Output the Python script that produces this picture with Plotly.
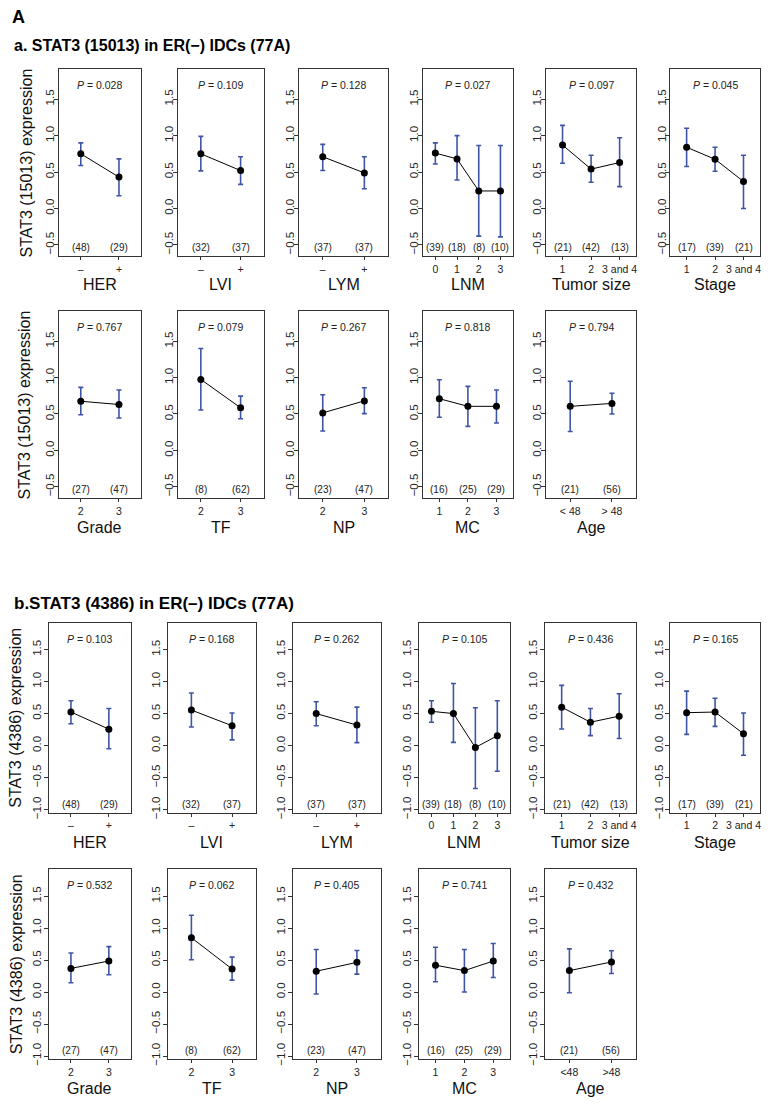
import plotly.graph_objects as go

# ---------------- data ----------------
panel_names = ["HER", "LVI", "LYM", "LNM", "Tumor size", "Stage", "Grade", "TF", "NP", "MC", "Age"]
cats_HER = ["–", "+"]
cats_LVI = ["–", "+"]
cats_LYM = ["–", "+"]
cats_LNM = ["0", "1", "2", "3"]
cats_Tumor = ["1", "2", "3 and 4"]
cats_Stage = ["1", "2", "3 and 4"]
cats_Grade = ["2", "3"]
cats_TF = ["2", "3"]
cats_NP = ["2", "3"]
cats_MC = ["1", "2", "3"]
cats_Age_a = ["< 48", "> 48"]
cats_Age_b = ["<48", ">48"]

n_HER = [48, 29]
n_LVI = [32, 37]
n_LYM = [37, 37]
n_LNM = [39, 18, 8, 10]
n_Tumor = [21, 42, 13]
n_Stage = [17, 39, 21]
n_Grade = [27, 47]
n_TF = [8, 62]
n_NP = [23, 47]
n_MC = [16, 25, 29]
n_Age = [21, 56]

p_a = ["0.028", "0.109", "0.128", "0.027", "0.097", "0.045", "0.767", "0.079", "0.267", "0.818", "0.794"]
p_b = ["0.103", "0.168", "0.262", "0.105", "0.436", "0.165", "0.532", "0.062", "0.405", "0.741", "0.432"]

# section a: STAT3 (15013)  mean / lower / upper
a_HER_mean = [0.75, 0.43];   a_HER_lo = [0.59, 0.175];  a_HER_hi = [0.90, 0.68]
a_LVI_mean = [0.75, 0.52];   a_LVI_lo = [0.515, 0.33];  a_LVI_hi = [0.99, 0.71]
a_LYM_mean = [0.71, 0.487];  a_LYM_lo = [0.52, 0.27];   a_LYM_hi = [0.88, 0.71]
a_LNM_mean = [0.76, 0.68, 0.24, 0.24]; a_LNM_lo = [0.61, 0.39, -0.38, -0.39]; a_LNM_hi = [0.90, 1.0, 0.865, 0.865]
a_Tumor_mean = [0.87, 0.54, 0.63]; a_Tumor_lo = [0.62, 0.36, 0.30]; a_Tumor_hi = [1.14, 0.73, 0.97]
a_Stage_mean = [0.84, 0.675, 0.37]; a_Stage_lo = [0.575, 0.51, 0.0]; a_Stage_hi = [1.10, 0.84, 0.73]
a_Grade_mean = [0.675, 0.63]; a_Grade_lo = [0.49, 0.445]; a_Grade_hi = [0.865, 0.83]
a_TF_mean = [0.975, 0.585]; a_TF_lo = [0.555, 0.435]; a_TF_hi = [1.40, 0.745]
a_NP_mean = [0.515, 0.68]; a_NP_lo = [0.265, 0.505]; a_NP_hi = [0.765, 0.86]
a_MC_mean = [0.71, 0.605, 0.605]; a_MC_lo = [0.455, 0.33, 0.375]; a_MC_hi = [0.97, 0.88, 0.83]
a_Age_mean = [0.605, 0.645]; a_Age_lo = [0.26, 0.50]; a_Age_hi = [0.95, 0.785]

# section b: STAT3 (4386)
b_HER_mean = [0.525, 0.257]; b_HER_lo = [0.34, -0.05]; b_HER_hi = [0.70, 0.58]
b_LVI_mean = [0.555, 0.31]; b_LVI_lo = [0.29, 0.09]; b_LVI_hi = [0.82, 0.51]
b_LYM_mean = [0.50, 0.32]; b_LYM_lo = [0.31, 0.046]; b_LYM_hi = [0.685, 0.60]
b_LNM_mean = [0.535, 0.50, -0.03, 0.154]; b_LNM_lo = [0.365, 0.05, -0.67, -0.40]; b_LNM_hi = [0.70, 0.97, 0.59, 0.70]
b_Tumor_mean = [0.60, 0.365, 0.46]; b_Tumor_lo = [0.26, 0.155, 0.11]; b_Tumor_hi = [0.94, 0.58, 0.81]
b_Stage_mean = [0.514, 0.524, 0.185]; b_Stage_lo = [0.175, 0.30, -0.15]; b_Stage_hi = [0.85, 0.74, 0.51]
b_Grade_mean = [0.37, 0.485]; b_Grade_lo = [0.145, 0.27]; b_Grade_hi = [0.61, 0.71]
b_TF_mean = [0.85, 0.36]; b_TF_lo = [0.505, 0.186]; b_TF_hi = [1.20, 0.546]
b_NP_mean = [0.325, 0.464]; b_NP_lo = [-0.03, 0.28]; b_NP_hi = [0.665, 0.65]
b_MC_mean = [0.42, 0.335, 0.485]; b_MC_lo = [0.16, 0.0, 0.227]; b_MC_hi = [0.70, 0.665, 0.76]
b_Age_mean = [0.335, 0.47]; b_Age_lo = [-0.01, 0.29]; b_Age_hi = [0.675, 0.645]

yticks_a = [-0.5, 0.0, 0.5, 1.0, 1.5]
yticks_b = [-1.0, -0.5, 0.0, 0.5, 1.0, 1.5]
ylabel_a = "STAT3 (15013) expression"
ylabel_b = "STAT3 (4386) expression"
title_a = "a. STAT3 (15013) in ER(−) IDCs (77A)"
title_b = "b.STAT3 (4386) in ER(–) IDCs (77A)"

cats_all = [cats_HER, cats_LVI, cats_LYM, cats_LNM, cats_Tumor, cats_Stage, cats_Grade, cats_TF, cats_NP, cats_MC]
n_all = [n_HER, n_LVI, n_LYM, n_LNM, n_Tumor, n_Stage, n_Grade, n_TF, n_NP, n_MC, n_Age]
a_data = [(a_HER_mean, a_HER_lo, a_HER_hi), (a_LVI_mean, a_LVI_lo, a_LVI_hi), (a_LYM_mean, a_LYM_lo, a_LYM_hi),
          (a_LNM_mean, a_LNM_lo, a_LNM_hi), (a_Tumor_mean, a_Tumor_lo, a_Tumor_hi), (a_Stage_mean, a_Stage_lo, a_Stage_hi),
          (a_Grade_mean, a_Grade_lo, a_Grade_hi), (a_TF_mean, a_TF_lo, a_TF_hi), (a_NP_mean, a_NP_lo, a_NP_hi),
          (a_MC_mean, a_MC_lo, a_MC_hi), (a_Age_mean, a_Age_lo, a_Age_hi)]
b_data = [(b_HER_mean, b_HER_lo, b_HER_hi), (b_LVI_mean, b_LVI_lo, b_LVI_hi), (b_LYM_mean, b_LYM_lo, b_LYM_hi),
          (b_LNM_mean, b_LNM_lo, b_LNM_hi), (b_Tumor_mean, b_Tumor_lo, b_Tumor_hi), (b_Stage_mean, b_Stage_lo, b_Stage_hi),
          (b_Grade_mean, b_Grade_lo, b_Grade_hi), (b_TF_mean, b_TF_lo, b_TF_hi), (b_NP_mean, b_NP_lo, b_NP_hi),
          (b_MC_mean, b_MC_lo, b_MC_hi), (b_Age_mean, b_Age_lo, b_Age_hi)]

# ---------------- layout geometry (pixels) ----------------
W, H = 771, 1111
OFF = 8  # body margin of the html page
FW, FH = W - 2 * OFF, H - 2 * OFF
cols_a = [(58.7, 141.3), (178, 264), (299, 389), (423.3, 513.7), (546.7, 637), (671, 761)]
cols_b = [(49, 131), (168, 256), (293, 381), (419.3, 510.7), (545.7, 636.7), (671, 761)]
rows = [(69.3, 257.5), (312.7, 500.7), (626, 817.3), (874, 1065)]
yr_a = [-0.655, 1.915]
yr_b = [-1.05, 1.92]
label_shift = [-28, -29, -29.5, -29]
ytitle_x = [27, 25, 16, 16]
ystandoff = [-5, -5, -2, -2]

def px(x):
    return (x - OFF) / FW

def py(y):
    return 1 - (y - OFF) / FH

FONT = "Liberation Sans, Arial, Helvetica, sans-serif"
BLUE = "#3e55a6"
AXC = "#333333"

fig = go.Figure()
layout = {}
annotations = []
k = 0
for sec in range(2):
    data = a_data if sec == 0 else b_data
    pvals = p_a if sec == 0 else p_b
    cols = cols_a if sec == 0 else cols_b
    yr = yr_a if sec == 0 else yr_b
    yt = yticks_a if sec == 0 else yticks_b
    for i in range(11):
        k += 1
        r = sec * 2 + (0 if i < 6 else 1)
        c = i if i < 6 else i - 6
        if i < 10:
            cats = cats_all[i]
        else:
            cats = cats_Age_a if sec == 0 else cats_Age_b
        n = len(cats)
        xs = list(range(1, n + 1))
        mean, lo, hi = data[i]
        up = [h - m for h, m in zip(hi, mean)]
        dn = [m - l for m, l in zip(mean, lo)]
        xa = "x" if k == 1 else f"x{k}"
        ya = "y" if k == 1 else f"y{k}"
        fig.add_trace(go.Scatter(
            x=xs, y=mean, xaxis=xa, yaxis=ya, mode="lines+markers",
            line=dict(color="black", width=1),
            marker=dict(color="black", size=7),
            error_y=dict(type="data", array=up, arrayminus=dn, symmetric=False,
                         color=BLUE, thickness=1.6, width=2.5),
            showlegend=False, hoverinfo="skip"))
        x0, x1 = cols[c]
        y0, y1 = rows[r]
        suffix = "" if k == 1 else str(k)
        layout["xaxis" + suffix] = dict(
            domain=[px(x0), px(x1)], anchor=ya, range=[0.42, n + 0.58],
            tickvals=xs, ticktext=cats, ticks="outside", ticklen=3, tickcolor=AXC,
            tickfont=dict(size=10.5, color="#222", family=FONT),
            showline=True, linecolor=AXC, linewidth=1, mirror=True,
            showgrid=False, zeroline=False, fixedrange=True)
        layout["yaxis" + suffix] = dict(
            domain=[py(y1), py(y0)], anchor=xa, range=yr,
            tickvals=yt, ticktext=[("−" if v < 0 else "") + f"{abs(v):.1f}" for v in yt],
            tickangle=-90, ticks="outside", ticklen=4, tickcolor=AXC,
            ticklabelstandoff=ystandoff[r],
            tickfont=dict(size=11.5, color="#222", family=FONT),
            showline=True, linecolor=AXC, linewidth=1, mirror=True,
            showgrid=False, zeroline=False, fixedrange=True)
        mid = (n + 1) / 2
        annotations.append(dict(x=mid, xref=xa, y=1, yref=ya + " domain", yanchor="middle", yshift=-16,
                                text="<i>P</i> = " + pvals[i], showarrow=False,
                                font=dict(size=10.5, color="#222", family=FONT)))
        for xi, nn in zip(xs, n_all[i]):
            annotations.append(dict(x=xi, xref=xa, y=0, yref=ya + " domain", yanchor="bottom", yshift=1,
                                    text=f"({nn})", showarrow=False,
                                    font=dict(size=10, color="#222", family=FONT)))
        annotations.append(dict(x=mid, xref=xa, y=0, yref=ya + " domain", yanchor="middle",
                                yshift=label_shift[r], text=panel_names[i], showarrow=False,
                                font=dict(size=16, color="#111", family=FONT)))
        if c == 0:
            annotations.append(dict(x=px(ytitle_x[r]), xref="paper", y=py((y0 + y1) / 2), yref="paper",
                                    xanchor="center", yanchor="middle", textangle=-90,
                                    text=ylabel_a if sec == 0 else ylabel_b, showarrow=False,
                                    font=dict(size=16, color="#111", family=FONT)))

annotations.append(dict(x=px(10), y=py(17), xref="paper", yref="paper", xanchor="left", yanchor="middle",
                        text="<b>A</b>", showarrow=False, font=dict(size=18, color="black", family=FONT)))
annotations.append(dict(x=px(12), y=py(45.5), xref="paper", yref="paper", xanchor="left", yanchor="middle",
                        text="<b>" + title_a + "</b>", showarrow=False, font=dict(size=16, color="black", family=FONT)))
annotations.append(dict(x=px(12), y=py(607), xref="paper", yref="paper", xanchor="left", yanchor="middle",
                        text="<b>" + title_b + "</b>", showarrow=False, font=dict(size=17, color="black", family=FONT)))

fig.update_layout(width=FW, height=FH, margin=dict(l=0, r=0, t=0, b=0),
                  paper_bgcolor="white", plot_bgcolor="white",
                  font=dict(family=FONT), annotations=annotations, **layout)
fig.write_html("out.html")
